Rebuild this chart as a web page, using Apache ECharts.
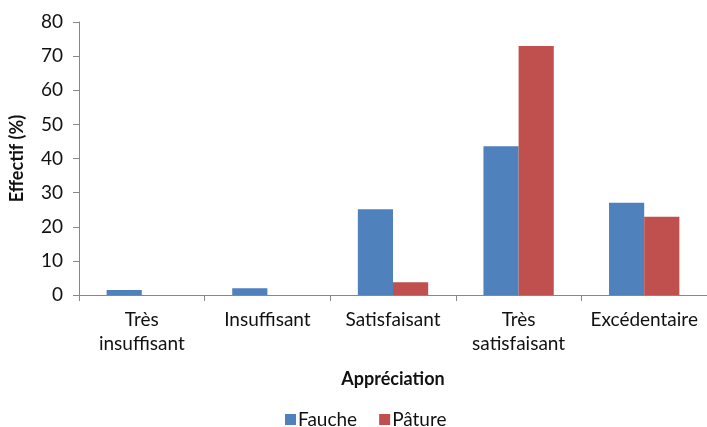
<!DOCTYPE html>
<html><head><meta charset="utf-8">
<script src="https://cdn.jsdelivr.net/npm/echarts@6/dist/echarts.min.js"></script>
<style>html,body{margin:0;padding:0;background:#fff}#c{width:707px;height:427px}</style>
</head><body><div id="c"></div>
<script>
const categories = ["Très\ninsuffisant", "Insuffisant", "Satisfaisant", "Très\nsatisfaisant", "Excédentaire"];
const fauche = [1.5, 2, 25.1, 43.6, 27];
const paturage = [0, 0, 3.7, 73, 22.9];
const yTicks = [0, 10, 20, 30, 40, 50, 60, 70, 80];

const font = "Lato";
const chart = echarts.init(document.getElementById('c'), null, {renderer: 'canvas'});
chart.setOption({
  animation: false,
  backgroundColor: '#fff',
  textStyle: {fontFamily: font},
  grid: {left: 79, top: 22, width: 634, height: 273, containLabel: false},
  legend: {
    bottom: -7, left: 280, itemWidth: 11, itemHeight: 11, itemGap: 22,
    icon: 'rect',
    textStyle: {fontFamily: font, fontSize: 19, color: '#111', padding: [0, 0, 0, -3]},
    data: ['Fauche', 'Pâture']
  },
  xAxis: {
    type: 'category', data: categories,
    name: 'Appréciation', nameLocation: 'middle', nameGap: 75,
    nameTextStyle: {fontFamily: font, fontSize: 18, fontWeight: 'bold', color: '#111'},
    axisLine: {lineStyle: {color: '#888', width: 1}},
    axisTick: {show: true, length: 6, lineStyle: {color: '#888'}},
    axisLabel: {fontFamily: font, fontSize: 19, color: '#111', margin: 13, lineHeight: 24, verticalAlign: 'top', interval: 0}
  },
  yAxis: {
    type: 'value', min: 0, max: 80, interval: 10,
    name: 'Effectif (%)', nameLocation: 'middle', nameGap: 53, nameRotate: 90,
    nameTextStyle: {fontFamily: font, fontSize: 18, fontWeight: 'bold', color: '#111'},
    axisLine: {show: true, lineStyle: {color: '#888', width: 1}},
    axisTick: {show: true, length: 6, lineStyle: {color: '#888'}},
    splitLine: {show: false},
    axisLabel: {fontFamily: font, fontSize: 19, color: '#111', margin: 16,
      formatter: v => yTicks.includes(v) ? String(v) : ''}
  },
  series: [
    {name: 'Fauche', type: 'bar', data: fauche, barGap: '0%', barCategoryGap: '44%', itemStyle: {color: '#4F81BD'}},
    {name: 'Pâture', type: 'bar', data: paturage, barGap: '0%', barCategoryGap: '44%', itemStyle: {color: '#C0504D'}}
  ]
});
</script></body></html>
